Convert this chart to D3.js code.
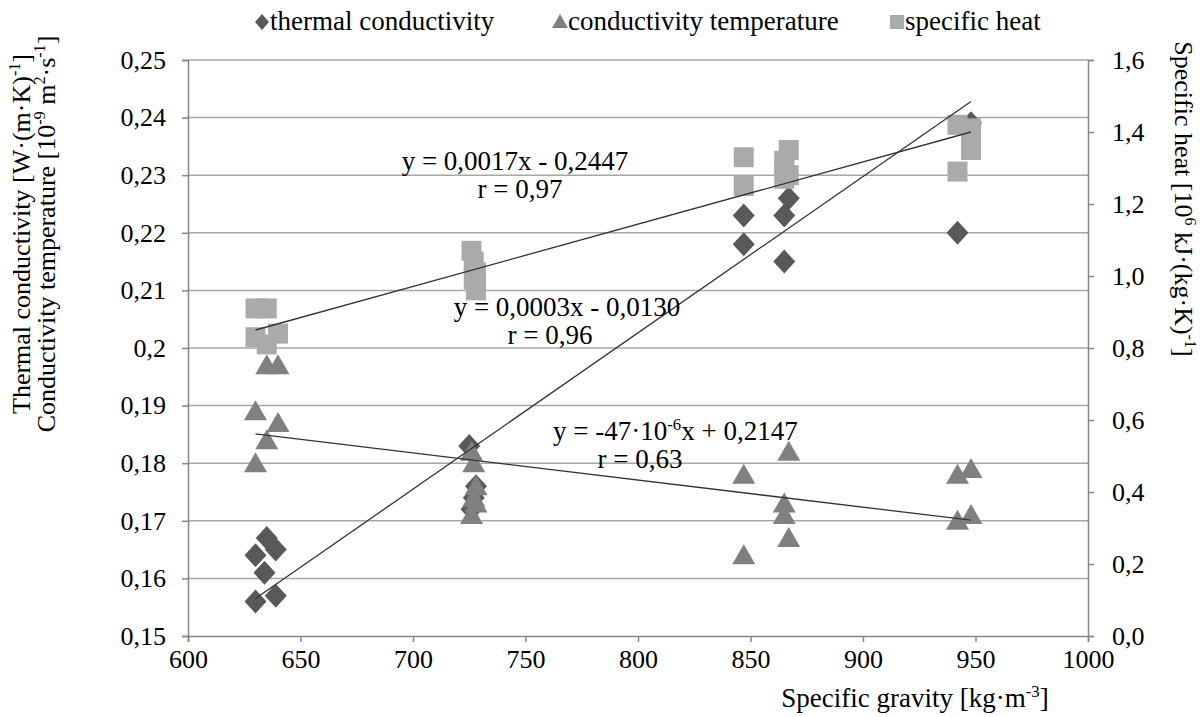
<!DOCTYPE html>
<html>
<head>
<meta charset="utf-8">
<script src="https://cdn.jsdelivr.net/npm/d3@7"></script>
<style>
  body { margin: 0; background: #fff; }
  svg text { font-family: "Liberation Serif", "Times New Roman", serif; fill: #000; }
</style>
</head>
<body>
<div id="chart"></div>
<script>
// ---- data ----
const xTickValues = [600, 650, 700, 750, 800, 850, 900, 950, 1000];
const leftTickValues = [0.15, 0.16, 0.17, 0.18, 0.19, 0.2, 0.21, 0.22, 0.23, 0.24, 0.25];
const leftTickLabels = ['0,15','0,16','0,17','0,18','0,19','0,2','0,21','0,22','0,23','0,24','0,25'];
const rightTickValues = [0, 0.2, 0.4, 0.6, 0.8, 1.0, 1.2, 1.4, 1.6];
const rightTickLabels = ['0,0','0,2','0,4','0,6','0,8','1,0','1,2','1,4','1,6'];

// thermal conductivity (left axis)
const thermalX = [630, 635, 634, 639, 630, 639, 725, 728, 727, 726, 847, 847, 867, 865, 865, 942, 948];
const thermalY = [0.164, 0.167, 0.161, 0.165, 0.156, 0.157, 0.183, 0.176, 0.174, 0.172, 0.223, 0.218, 0.226, 0.223, 0.215, 0.220, 0.239];

// conductivity temperature (left axis)
const condX = [630, 640, 635, 630, 635, 640, 726, 727, 728, 727, 728, 726, 847, 847, 867, 865, 865, 867, 942, 948, 942, 948];
const condY = [0.189, 0.187, 0.184, 0.180, 0.197, 0.197, 0.182, 0.180, 0.176, 0.174, 0.173, 0.171, 0.178, 0.164, 0.182, 0.173, 0.171, 0.167, 0.178, 0.179, 0.170, 0.171];

// specific heat (right axis)
const heatX = [630, 635, 630, 635, 640, 726, 727, 728, 727, 728, 847, 847, 867, 865, 865, 867, 865, 942, 948, 948, 948, 942];
const heatY = [0.91, 0.91, 0.83, 0.81, 0.84, 1.07, 1.04, 1.01, 0.99, 0.96, 1.33, 1.25, 1.35, 1.32, 1.30, 1.28, 1.27, 1.42, 1.41, 1.38, 1.35, 1.29];

// trend line end points
const trendThermal = [[630, 0.1565], [948, 0.2428]];
const trendCond = [[630, 0.1851], [948, 0.1701]];
const trendHeat = [[630, 0.85], [948, 1.40]];

const legendNames = ['thermal conductivity', 'conductivity temperature', 'specific heat'];

// ---- layout ----
const W = 1203, H = 717;
const M = { left: 188, right: 1088, top: 60, bottom: 636 };
const FS = 27, TICK_FS = 26;

const svg = d3.select('#chart').append('svg')
  .attr('width', W).attr('height', H);

const x = d3.scaleLinear().domain([600, 1000]).range([M.left, M.right]);
const yL = d3.scaleLinear().domain([0.15, 0.25]).range([M.bottom, M.top]);
const yR = d3.scaleLinear().domain([0, 1.6]).range([M.bottom, M.top]);

const gridCol = '#a6a6a6', axisCol = '#868686';

// gridlines
svg.append('g').selectAll('line')
  .data(leftTickValues.slice(1)).enter().append('line')
    .attr('x1', M.left).attr('x2', M.right)
    .attr('y1', d => yL(d)).attr('y2', d => yL(d))
    .attr('stroke', gridCol).attr('stroke-width', 1.5);

// axes
const fmtL = d => leftTickLabels[leftTickValues.indexOf(d)];
const fmtR = d => rightTickLabels[rightTickValues.indexOf(d)];

const axL = svg.append('g').attr('transform', `translate(${M.left},0)`)
  .call(d3.axisLeft(yL).tickValues(leftTickValues).tickFormat(fmtL).tickSize(6).tickPadding(16));
const axR = svg.append('g').attr('transform', `translate(${M.right},0)`)
  .call(d3.axisRight(yR).tickValues(rightTickValues).tickFormat(fmtR).tickSize(6).tickPadding(18));
const axB = svg.append('g').attr('transform', `translate(0,${M.bottom})`)
  .call(d3.axisBottom(x).tickValues(xTickValues).tickFormat(d3.format('d')).tickSize(6).tickPadding(8));

[axL, axR, axB].forEach(g => {
  g.select('.domain').attr('stroke', axisCol).attr('stroke-width', 1.5);
  g.selectAll('.tick line').attr('stroke', axisCol).attr('stroke-width', 1.5);
  g.selectAll('.tick text').attr('font-size', TICK_FS).attr('font-family', '"Liberation Serif", serif').attr('fill', '#000');
});

// marker shapes
const diamond = 'M0,-12L11,0L0,12L-11,0Z';
const triangle = 'M0,-11L11.5,9L-11.5,9Z';
const square = 'M-10,-10H10V10H-10Z';

function drawSeries(xs, ys, yScale, path, color) {
  svg.append('g').selectAll('path')
    .data(xs.map((v, i) => [v, ys[i]])).enter().append('path')
      .attr('d', path)
      .attr('transform', d => `translate(${x(d[0])},${yScale(d[1])})`)
      .attr('fill', color);
}
drawSeries(thermalX, thermalY, yL, diamond, '#595959');
drawSeries(condX, condY, yL, triangle, '#808080');
drawSeries(heatX, heatY, yR, square, '#aaaaaa');

// trend lines
function drawTrend(pts, yScale) {
  svg.append('line')
    .attr('x1', x(pts[0][0])).attr('y1', yScale(pts[0][1]))
    .attr('x2', x(pts[1][0])).attr('y2', yScale(pts[1][1]))
    .attr('stroke', '#333').attr('stroke-width', 1.3);
}
drawTrend(trendThermal, yL);
drawTrend(trendCond, yL);
drawTrend(trendHeat, yR);

// text with superscripts: parts = [[text, isSup], ...]
function richText(g, parts, size) {
  const t = g.append('text').attr('font-size', size);
  let up = false;
  parts.forEach(([s, sup]) => {
    const ts = t.append('tspan').text(s);
    if (sup && !up) { ts.attr('dy', -size * 0.38).attr('font-size', size * 0.62); up = true; }
    else if (sup) { ts.attr('font-size', size * 0.62); }
    else if (!sup && up) { ts.attr('dy', size * 0.38); up = false; }
  });
  return t;
}

// regression labels
const eq = svg.append('g');
richText(eq, [['y = 0,0017x - 0,2447', false]], FS).attr('x', 515).attr('y', 170).attr('text-anchor', 'middle');
richText(eq, [['r = 0,97', false]], FS).attr('x', 520).attr('y', 198).attr('text-anchor', 'middle');
richText(eq, [['y = 0,0003x - 0,0130', false]], FS).attr('x', 567).attr('y', 316).attr('text-anchor', 'middle');
richText(eq, [['r = 0,96', false]], FS).attr('x', 550).attr('y', 344).attr('text-anchor', 'middle');
richText(eq, [['y = -47·10', false], ['-6', true], ['x + 0,2147', false]], FS).attr('x', 553).attr('y', 440);
richText(eq, [['r = 0,63', false]], FS).attr('x', 640).attr('y', 468).attr('text-anchor', 'middle');

// axis titles
const tl = svg.append('g').attr('transform', 'translate(30,234) rotate(-90)');
richText(tl, [['Thermal  conductivity [W·(m·K)', false], ['-1', true], [']', false]], 26)
  .attr('text-anchor', 'middle').attr('y', 0);
richText(tl, [['Conductivity temperature [10', false], ['-9', true], [' m', false], ['2', true], ['·s', false], ['-1', true], [']', false]], 26)
  .attr('text-anchor', 'middle').attr('y', 25);

const tr = svg.append('g').attr('transform', 'translate(1175,199) rotate(90)');
richText(tr, [['Specific heat [10', false], ['6', true], [' kJ·(kg·K)', false], ['-1', true], [']', false]], 26)
  .attr('text-anchor', 'middle');

const tb = svg.append('g');
richText(tb, [['Specific gravity [kg·m', false], ['-3', true], [']', false]], FS)
  .attr('x', 915).attr('y', 707).attr('text-anchor', 'middle');

// legend
const legendPos = [262, 560, 897];
const legendShapes = [
  'M0,-8L7,0L0,8L-7,0Z',
  'M0,-8L8,6L-8,6Z',
  'M-7,-7H7V7H-7Z'
];
const legendColors = ['#595959', '#808080', '#aaaaaa'];
const lg = svg.append('g');
legendNames.forEach((n, i) => {
  lg.append('path').attr('d', legendShapes[i])
    .attr('transform', `translate(${legendPos[i]},22)`).attr('fill', legendColors[i]);
  lg.append('text').attr('x', legendPos[i] + 8).attr('y', 30)
    .attr('font-size', FS).text(n);
});
</script>
</body>
</html>
